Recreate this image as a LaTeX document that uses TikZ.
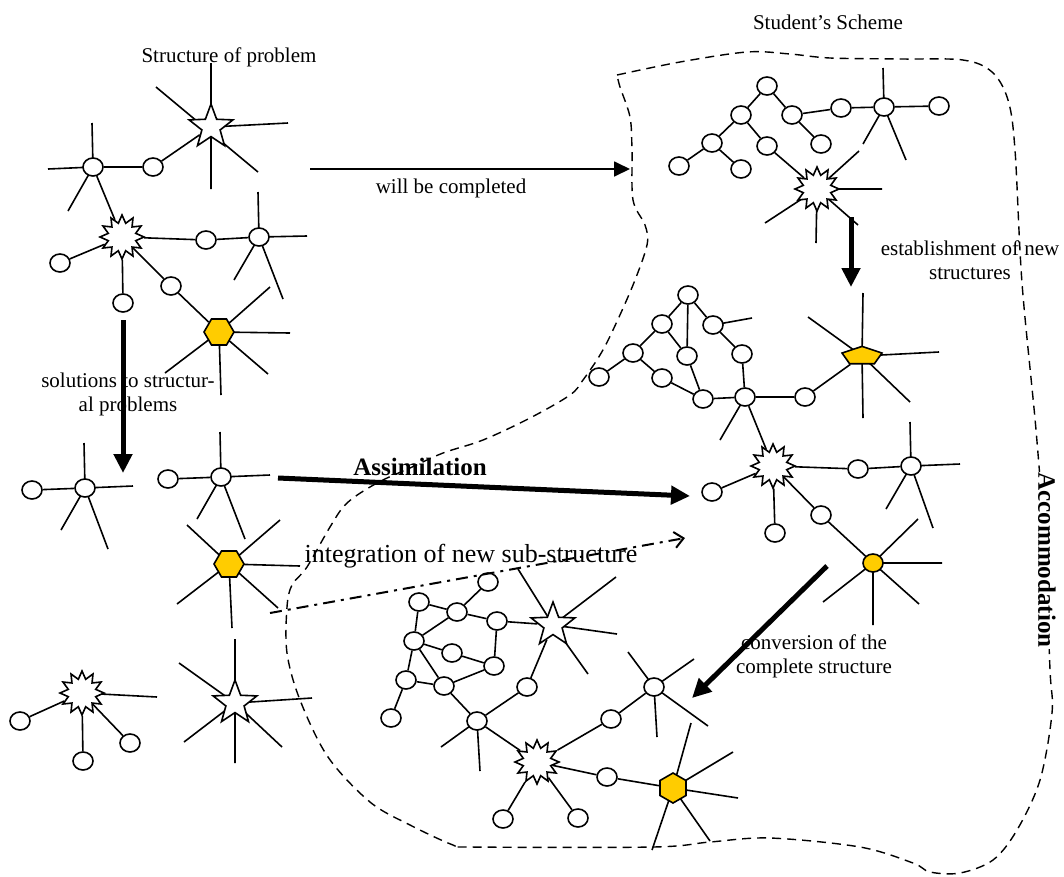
\documentclass[tikz,border=0pt]{standalone}
\usepackage{fontspec}
\setmainfont{Liberation Serif}
\usetikzlibrary{shapes.geometric,arrows.meta,backgrounds}
\definecolor{gold}{RGB}{255,204,0}
\begin{document}
\begin{tikzpicture}[x=1pt,y=-1pt,line width=1.6pt,
  circ/.style={ellipse,draw,fill=white,minimum width=20pt,minimum height=18pt,inner sep=0pt},
  ycirc/.style={circ,fill=gold},
  star5/.style={star,star points=5,star point ratio=2.4,draw,fill=white,minimum size=46pt,inner sep=0pt},
  burst/.style={star,star points=12,star point ratio=1.55,draw,fill=white,minimum size=44pt,inner sep=0pt},
  hexa/.style={regular polygon,regular polygon sides=6,draw,fill=gold,minimum size=30pt,inner sep=0pt},
  penta/.style={regular polygon,regular polygon sides=5,draw,fill=gold,minimum size=24pt,inner sep=0pt,xscale=1.75,yscale=0.8},
  lbl/.style={font=\fontsize{21}{24}\selectfont,inner sep=0pt,align=center},
  biglbl/.style={font=\fontsize{26}{30}\selectfont,inner sep=0pt},
  boldlbl/.style={font=\fontsize{25}{30}\selectfont\bfseries,inner sep=0pt},
  thinarrow/.style={line width=1.8pt,-{Triangle[length=16pt,width=15pt]}},
  thickarrow/.style={line width=5pt,-{Triangle[length=19pt,width=18pt]}},
  dasharrow/.style={line width=2pt,dash pattern=on 12pt off 6pt on 3pt off 6pt,-{Straight Barb[length=9pt,width=16pt]}},
  bound/.style={line width=1.4pt,dash pattern=on 9pt off 6pt},
  link/.style={line width=1.6pt},
]
\useasboundingbox (0,0) rectangle (1064,876);

% ---------- structure of the problem (top left) ----------
\node[circ] (a1) at (93,167) {};
\node[circ] (a2) at (153,167) {};
\node[star5] (a3) at (211,127) {};
\node[burst] (a4) at (122,237) {};
\node[circ] (a5) at (60,263) {};
\node[circ] (a6) at (123,303) {};
\node[circ] (a7) at (206,240) {};
\node[circ] (a8) at (259,237) {};
\node[circ] (a9) at (171,286) {};
\node[hexa] (a10) at (219,332) {};

% ---------- separated sub-structures (left) ----------
\node[circ] (b1) at (85,488) {};
\node[circ] (b2) at (32,490) {};
\node[circ] (b3) at (221,477) {};
\node[circ] (b4) at (168,479) {};
\node[hexa] (b5) at (229,564) {};
\node[burst] (b6) at (82,693) {};
\node[circ] (b7) at (20,721) {};
\node[circ] (b8) at (83,761) {};
\node[circ] (b9) at (130,743) {};
\node[star5] (b10) at (235,703) {};

% ---------- student's scheme, top ----------
\node[circ] (c1) at (767,86) {};
\node[circ] (c2) at (741,115) {};
\node[circ] (c3) at (792,115) {};
\node[circ] (c4) at (712,143) {};
\node[circ] (c5) at (767,146) {};
\node[circ] (c6) at (821,144) {};
\node[circ] (c7) at (679,166) {};
\node[circ] (c8) at (741,169) {};
\node[circ] (c9) at (841,108) {};
\node[circ] (c10) at (884,107) {};
\node[circ] (c11) at (939,106) {};
\node[burst] (c12) at (817,189) {};

% ---------- extended scheme, middle right ----------
\node[circ] (d1) at (688,295) {};
\node[circ] (d2) at (662,324) {};
\node[circ] (d3) at (713,325) {};
\node[circ] (d4) at (633,353) {};
\node[circ] (d5) at (687,356) {};
\node[circ] (d6) at (742,354) {};
\node[circ] (d7) at (599,377) {};
\node[circ] (d8) at (662,378) {};
\node[circ] (d9) at (703,399) {};
\node[circ] (d10) at (745,397) {};
\node[circ] (d11) at (805,397) {};
\node[penta] (d12) at (862,356) {};
\node[burst] (d13) at (773,466) {};
\node[circ] (d14) at (712,492) {};
\node[circ] (d15) at (858,469) {};
\node[circ] (d16) at (911,466) {};
\node[circ] (d17) at (775,533) {};
\node[circ] (d18) at (821,515) {};
\node[ycirc] (d19) at (873,563) {};

% ---------- converted scheme, bottom ----------
\node[circ] (e1) at (488,582) {};
\node[circ] (e2) at (419,602) {};
\node[circ] (e3) at (457,612) {};
\node[circ] (e4) at (497,621) {};
\node[circ] (e5) at (414,641) {};
\node[circ] (e6) at (452,653) {};
\node[circ] (e7) at (494,666) {};
\node[circ] (e8) at (406,680) {};
\node[circ] (e9) at (444,686) {};
\node[circ] (e10) at (527,687) {};
\node[circ] (e11) at (391,718) {};
\node[circ] (e12) at (477,721) {};
\node[circ] (e13) at (611,719) {};
\node[circ] (e14) at (654,687) {};
\node[circ] (e15) at (607,777) {};
\node[circ] (e16) at (503,819) {};
\node[circ] (e17) at (578,818) {};
\node[star5] (e18) at (553,625) {};
\node[burst] (e19) at (537,762) {};
\node[hexa,shape border rotate=30] (e20) at (673,788) {};

% ---------- labels ----------
\node[lbl,anchor=base] (tprob) at (229,62) {Structure of problem};
\node[lbl,anchor=base] (tscheme) at (828,29) {Student's Scheme};
\node[lbl,anchor=base] (twill) at (451,193) {will be completed};
\node[lbl] (testab) at (970,260) {establishment of new\\structures};
\node[lbl] (tsol) at (128,394) {solutions to structur-\\al problems};
\node[boldlbl,anchor=base] (tassim) at (420,475) {Assimilation};
\node[biglbl,anchor=base] (tinteg) at (471,562) {integration of new sub-structure};
\node[lbl] (tconv) at (814,656) {conversion of the\\complete structure};

% ---------- arrows ----------
\coordinate (w0) at (310,169); \coordinate (w1) at (630,169);
\draw[thinarrow] (w0) -- (w1);
\coordinate (s0) at (123,320); \coordinate (s1) at (123,473);
\draw[thickarrow] (s0) -- (s1);
\coordinate (n0) at (851,217); \coordinate (n1) at (851,287);
\draw[thickarrow] (n0) -- (n1);
\coordinate (m0) at (278,478); \coordinate (m1) at (690,496);
\draw[thickarrow] (m0) -- (m1);
\coordinate (i0) at (270,613); \coordinate (i1) at (685,538);
\draw[dasharrow] (i0) -- (i1);
\coordinate (v0) at (827,566); \coordinate (v1) at (692,698);
\draw[thickarrow] (v0) -- (v1);

\begin{scope}[on background layer]
\begin{scope}[link]
  % boundary of the student's scheme
  \draw[bound] plot[smooth,tension=0.55] coordinates {
    (617,75) (680,62) (747,52) (790,54) (830,58) (900,59) (963,60) (992,72)
    (1008,100) (1015,150) (1022,283) (1036,430) (1045,550) (1050,670)
    (1052,713) (1040,780) (1017,830) (993,860) (960,873) (930,872) (913,863)
    (860,847) (770,838) (710,842) (653,847) (470,847) (453,845) (410,825)
    (370,802) (328,757) (300,700) (287,653) (287,607) (292,585) (307,567)
    (330,527) (347,503) (377,483) (410,468) (443,453) (483,440) (530,418)
    (570,395) (583,380) (600,355) (613,330) (633,285) (647,245) (645,225)
    (633,200) (632,150) (630,117) (620,87) (617,75)};

  % top left
  \draw[link] (a1) -- (a2) (a2) -- (a3) (a1) -- (a4) (a4) -- (a5) (a4) -- (a6)
        (a4) -- (a7) (a7) -- (a8) (a4) -- (a9) (a9) -- (a10);
  \draw[link] (a1.center) -- (92,123) (a1.center) -- (48,169) (a1.center) -- (68,211);
  \draw[link] (a3.center) -- (211,63) (156,87) -- (258,172) (a3.center) -- (288,123)
        (a3.center) -- (211,189);
  \draw[link] (a8.center) -- (258,192) (a8.center) -- (307,236) (a8.center) -- (234,280)
        (a8.center) -- (283,299);
  \draw[link] (a10.center) -- (270,287) (a10.center) -- (290,333) (a10.center) -- (268,374)
        (a10.center) -- (221,395) (a10.center) -- (165,373);

  % left
  \draw[link] (b1) -- (b2) (b3) -- (b4) (b6) -- (b7) (b6) -- (b8) (b6) -- (b9);
  \draw[link] (b1.center) -- (84,443) (b1.center) -- (133,486) (b1.center) -- (61,530)
        (b1.center) -- (108,549);
  \draw[link] (b3.center) -- (220,432) (b3.center) -- (270,475) (b3.center) -- (197,519)
        (b3.center) -- (245,539);
  \draw[link] (b5.center) -- (187,525) (b5.center) -- (280,520) (b5.center) -- (300,566)
        (b5.center) -- (278,608) (b5.center) -- (177,604) (b5.center) -- (232,628);
  \draw[link] (b6.center) -- (157,697);
  \draw[link] (b10.center) -- (235,639) (b10.center) -- (179,663) (b10.center) -- (312,698)
        (b10.center) -- (282,747) (b10.center) -- (235,763) (b10.center) -- (184,742);

  % top right
  \draw[link] (c1) -- (c2) (c1) -- (c3) (c2) -- (c4) (c2) -- (c5) (c3) -- (c6)
        (c4) -- (c7) (c4) -- (c8) (c3) -- (c9) (c9) -- (c10) (c10) -- (c11)
        (c5) -- (c12);
  \draw[link] (c10.center) -- (883,68) (c10.center) -- (863,144) (c10.center) -- (906,160);
  \draw[link] (c12.center) -- (859,151) (c12.center) -- (882,189) (c12.center) -- (858,225)
        (c12.center) -- (816,243) (c12.center) -- (765,223);

  % middle right
  \draw[link] (d1) -- (d2) (d1) -- (d3) (d1) -- (d5) (d2) -- (d4) (d2) -- (d5)
        (d3) -- (d6) (d4) -- (d7) (d4) -- (d8) (d8) -- (d9) (d5) -- (d9)
        (d9) -- (d10) (d6) -- (d10) (d10) -- (d11) (d11) -- (d12)
        (d10) -- (d13) (d13) -- (d14) (d13) -- (d15) (d15) -- (d16)
        (d13) -- (d17) (d13) -- (d18) (d18) -- (d19);
  \draw[link] (d3.center) -- (752,318) (d10.center) -- (720,440);
  \draw[link] (d12.center) -- (863,293) (d12.center) -- (808,317) (d12.center) -- (939,352)
        (d12.center) -- (910,402) (d12.center) -- (863,418);
  \draw[link] (d16.center) -- (910,422) (d16.center) -- (960,464) (d16.center) -- (886,509)
        (d16.center) -- (933,528);
  \draw[link] (d19.center) -- (918,519) (d19.center) -- (942,563) (d19.center) -- (919,604)
        (d19.center) -- (873,625) (d19.center) -- (823,602);

  % bottom
  \draw[link] (e1) -- (e3) (e2) -- (e3) (e2) -- (e5) (e3) -- (e5) (e3) -- (e4)
        (e4) -- (e18) (e4) -- (e7) (e5) -- (e8) (e5) -- (e6) (e6) -- (e7)
        (e5) -- (e9) (e9) -- (e12) (e8) -- (e9) (e9) -- (e7) (e8) -- (e11)
        (e12) -- (e10) (e10) -- (e18) (e12) -- (e19) (e19) -- (e13)
        (e13) -- (e14) (e19) -- (e15) (e15) -- (e20) (e19) -- (e16) (e19) -- (e17);
  \draw[link] (e12.center) -- (441,747) (e12.center) -- (480,771);
  \draw[link] (e14.center) -- (628,652) (e14.center) -- (694,659) (e14.center) -- (708,726)
        (e14.center) -- (657,737);
  \draw[link] (e18.center) -- (518,569) (e18.center) -- (616,577) (e18.center) -- (617,634)
        (e18.center) -- (588,674);
  \draw[link] (e20.center) -- (691,723) (e20.center) -- (733,752) (e20.center) -- (738,798)
        (e20.center) -- (710,841) (e20.center) -- (652,850);
\end{scope}
\end{scope}

\node[boldlbl,rotate=-90,fill=white,inner sep=1pt] (taccom) at (1047,560) {Accommodation};
\end{tikzpicture}
\end{document}
